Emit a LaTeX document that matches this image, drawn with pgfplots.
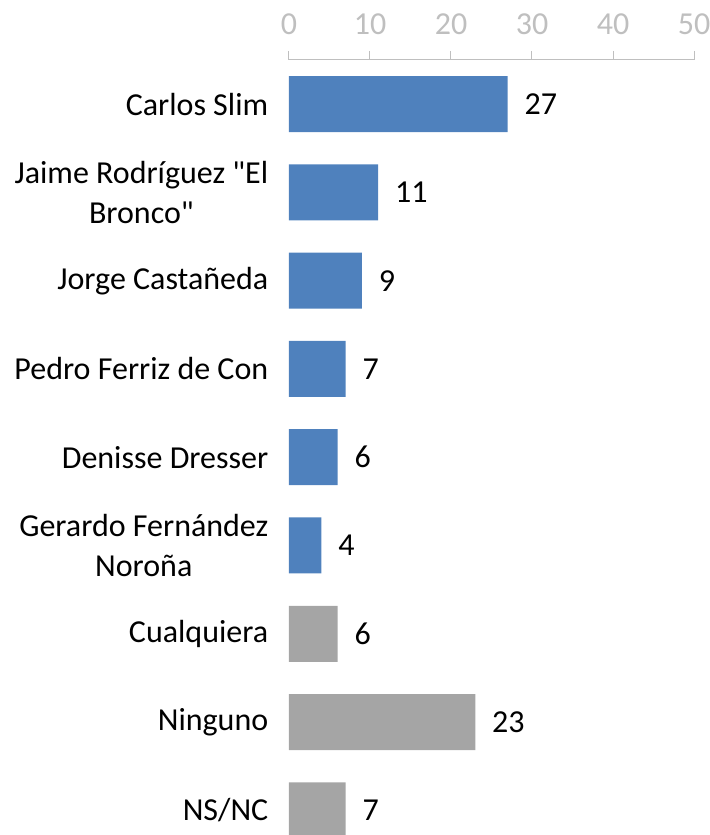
\documentclass[border=0pt]{standalone}
\usepackage{fontspec}
\setmainfont{Carlito}[Ligatures=TeXOff]
\usepackage{pgfplots}
\pgfplotsset{compat=1.18}
\definecolor{barblue}{HTML}{4F81BD}
\definecolor{bargray}{HTML}{A5A5A5}
\definecolor{axgray}{HTML}{BFBFBF}
\newcommand{\lbl}{\fontsize{24}{29.5}\selectfont}
\begin{document}
\begin{tikzpicture}
\begin{axis}[
  scale only axis,
  width=303.75pt, height=581.25pt,
  xmin=0, xmax=50, ymin=-0.5, ymax=8.28,
  y dir=reverse,
  axis x line=top, axis y line=left,
  x axis line style={-, draw=axgray, line width=0.75pt},
  y axis line style={draw=none},
  xtick={0,10,20,30,40,50},
  xtick align=outside,
  major x tick style={draw=axgray, line width=0.75pt},
  major tick length=6.75pt,
  ytick={0,1,2,3,4,5,6,7,8},
  yticklabels={Carlos Slim, {Jaime Rodríguez "El\\Bronco"}, Jorge Castañeda, Pedro Ferriz de Con, Denisse Dresser, {Gerardo Fernández\\Noroña}, Cualquiera, Ninguno, NS/NC},
  major y tick style={draw=none},
  /pgf/number format/assume math mode=true,
  xticklabel style={font=\lbl, text=axgray, yshift=9pt},
  yticklabel style={font=\lbl, text=black, align=center, anchor=east, inner sep=0pt, xshift=-12pt},
  every node near coord/.append style={font=\lbl, text=black, anchor=west, inner sep=0pt, xshift=12.5pt},
]
\addplot[xbar, bar width=42pt, bar shift=0pt, fill=barblue, draw=none, nodes near coords]
  coordinates {(27,0) (11,1) (9,2) (7,3) (6,4) (4,5)};
\addplot[xbar, bar width=42pt, bar shift=0pt, fill=bargray, draw=none, nodes near coords]
  coordinates {(6,6) (23,7) (7,8)};
\coordinate (O) at (axis cs:0,8.28);
\end{axis}
\pgfresetboundingbox
\path[use as bounding box] ([shift={(-216.75pt,0pt)}]O) rectangle ([shift={(315.75pt,626.25pt)}]O);
\end{tikzpicture}
\end{document}
